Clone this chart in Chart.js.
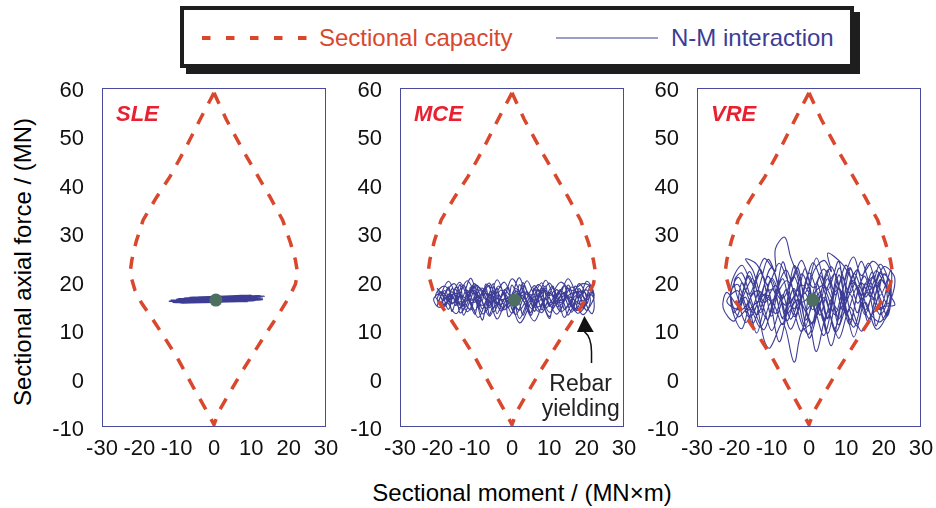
<!DOCTYPE html>
<html>
<head>
<meta charset="utf-8">
<script src="https://cdn.jsdelivr.net/npm/chart.js@4"></script>
<style>
  html, body { margin: 0; padding: 0; background: #fff; overflow: hidden; }
  #wrap { position: relative; width: 936px; height: 508px; font-family: 'Liberation Sans', Arial, sans-serif; }
  canvas { position: absolute; top: 70px; }
  #legend {
    position: absolute; left: 180px; top: 6px; width: 674px; height: 62px; box-sizing: border-box;
    border: 4px solid #1e1e1e; box-shadow: 6px 6px 0 #1e1e1e; background: #fff;
  }
  .txt { position: absolute; white-space: nowrap; font-size: 24px; line-height: 1; }
</style>
</head>
<body>
<div id="wrap">
  <div id="legend">
    <svg style="position:absolute;left:18px;top:24px" width="110" height="8">
      <line x1="0" y1="4" x2="108" y2="4" stroke="#d9472d" stroke-width="4" stroke-dasharray="8.5,15.5"/>
    </svg>
    <span class="txt" style="left:135px;top:16px;color:#d9472d">Sectional capacity</span>
    <svg style="position:absolute;left:372px;top:26px" width="104" height="4">
      <line x1="0" y1="2" x2="102" y2="2" stroke="#3d3d96" stroke-width="1.2"/>
    </svg>
    <span class="txt" style="left:487px;top:16px;color:#3d3d96">N-M interaction</span>
  </div>
  <canvas id="c1" width="298" height="397" style="left:42px"></canvas>
  <canvas id="c2" width="298" height="397" style="left:340px"></canvas>
  <canvas id="c3" width="298" height="397" style="left:637px"></canvas>
  <span class="txt" style="left:23px;top:262px;transform:translate(-50%,-50%) rotate(-90deg)">Sectional axial force / (MN)</span>
  <span class="txt" style="left:522px;top:493px;transform:translate(-50%,-50%)">Sectional moment / (MN×m)</span>
</div>
<script>
// tick labels
const xTicks = [-30, -20, -10, 0, 10, 20, 30];
const yTicks = [-10, 0, 10, 20, 30, 40, 50, 60];

// sectional capacity envelope (M, N), same for all three cases
const capM = [0, 3.3, 7.5, 11.3, 15, 18.4, 20.5, 21.8, 22.4, 21.8, 20.2, 17, 14, 10.8, 7.7, 4.5, 1.5, 0,
              -1.6, -5.6, -10, -13.2, -16.3, -19.4, -21.2, -22.5, -22, -20.8, -19, -15.5, -11.8, -7.8, -3.8, 0];
const capN = [59, 53.5, 47.5, 42.4, 37.5, 32.7, 28, 24.5, 21.8, 19.5, 16.9, 12.9, 9.4, 5.5, 1.7, -2.5, -6.5, -9.5,
              -7.2, -1.7, 4.5, 8.4, 12.1, 15.6, 18.3, 21.8, 24.5, 28.4, 32.7, 37.3, 41.7, 47.3, 53.4, 59];

// N-M interaction traces
const sleM = [-12, 13.5, -10, 12, -11, 10, -8, 13, -9, 11, -6, 12.5, -10.5, 9, -7, 11.5, -11.5, 8, -5, 13,
              -9.5, 10.5, -8.5, 12, -10, 7, -6.5, 11, -11, 9.5, -7.5, 12.5, -12, 10];
const sleN = [15.9, 17.0, 16.4, 16.4, 15.7, 17.2, 16.6, 16.6, 15.6, 16.1, 16.7, 17.1, 16.0, 15.9, 15.8, 16.9, 16.2, 16.8, 15.9, 16.3,
              16.5, 16.6, 15.7, 17.0, 16.1, 16.2, 16.8, 16.5, 15.9, 17.1, 16.3, 16.7, 16.0, 16.0];

const mceM = [0, 3, 6, 9, 11, 14, 16, 18, 20, 21.5, 19, 16, 13, 10, 7, 4, 1, -2, -5, -8,
              -11, -14, -16, -19, -20.5, -18, -15, -12, -9, -6, -3, 0, 2, 5, 8, 11, 13, 15, 17, 19,
              21, 22, 20, 18, 15, 12, 9, 6, 3, 0, -3, -6, -9, -12, -15, -17, -19, -21, -19.5, -16,
              -13, -10, -7, -4, -1, 2, 5, 7, 10, 12, 14, 17, 19, 21, 22, 21.5, 20.5, 18, 16, 13,
              10, 8, 5, 2, -1, -4, -7, -10, -13, -16, -18, -20, -17, -14, -11, -8, -5, -2, 1, 4,
              7, 10, 13, 16, 19, 21, 18.5, 15, 12, 9, 6, 3, 0, -3, -6, -9, -12, -15, -18, -20,
              -17, -14, -11, -8, -5, -2, 1, 4, 7, 10, 13, 16, 18, 20, 17.5, 14.5, 11.5, 8.5, 5.5, 2.5,
              -0.5, -3.5, -6.5, -9.5, -12.5, -15.5, -18.5, -15, -11, -7, -3, 1,
              -2, -4, -6, -7, -9, -10, -12, -13, -15, -16, -18, -19, -20, -18, -17, -15, -14, -12, -11, -9,
              -8, -6, -5, -3, -1, 0, 2, 3, 5, 6, 8, 9, 11, 12, 14, 15, 17, 18, 20, 21,
              20, 19, 17, 16, 14, 13, 11, 10, 8, 7, 5, 4, 2, 1, -1, -2, -4, -5, -7, -8,
              -10, -11, -13, -14, -16, -17, -19, -20, -18, -16, -15, -13, -12, -10, -9, -7, -6, -4, -3, -1,
              0, 2, 3, 5, 6, 8, 9, 11, 12, 14, 15, 17, 18, 20, 21, 22, 20.5, 19, 17, 15,
              14, 12, 10, 9, 7, 6, 4, 3, 1, -1, -2, -4, -5, -7, -8, -10, -11, -13, -14, -16,
              -17, -19, -18, -16, -14, -12, -10, -8, -6, -4, -2, 0, 2, 4, 6, 8, 10, 12, 14, 16,
              18, 20, 19, 16, 13, 10, 7, 4, 1];
const mceN = [16.5, 17.8, 16.2, 18.1, 15.4, 17.6, 14.8, 17.9, 16.3, 18.7, 19.6, 18.2, 19.9, 17.1, 19.4, 15.3, 18.6, 14.2, 17.8, 15.1,
              18.4, 14.6, 17.9, 15.8, 17.2, 19.1, 16.3, 20.2, 16.8, 19.7, 13.9, 17.3, 12.4, 16.9, 13.6, 18.8, 14.1, 19.3, 15.6, 13.2,
              15.1, 17.4, 20.1, 16.7, 20.6, 16.1, 20.3, 14.8, 19.1, 13.5, 18.3, 12.9, 17.2, 13.8, 18.9, 14.3, 17.6, 16.4, 14.7, 16.6,
              15.2, 19.6, 14.4, 20.4, 15.7, 20.8, 13.1, 17.5, 12.8, 17.3, 12.6, 17.1, 14.6, 19.2, 15.6, 13.4, 14.2, 18.6, 13.7, 18.4,
              14.9, 19.8, 15.6, 11.5, 16.9, 12.3, 18.1, 14.1, 19.3, 15.4, 18.2, 15.1, 20.1, 15.8, 20.7, 13.4, 16.4, 19.9, 14.9, 20.2,
              15.8, 19.7, 15.7, 18.9, 16.1, 17.9, 15.4, 16.9, 13.3, 16.4, 11.9, 16.1, 20.6, 15.1, 17.3, 12.6, 16.9, 13.4, 16.8, 18.6,
              16.2, 19.9, 15.6, 18.7, 14.7, 17.6, 13.2, 17.9, 13.9, 17.8, 13.8, 16.4, 19.6, 15.9, 13.5, 17.4, 15.1, 18.5, 14.4, 17.2,
              15.4, 19.1, 15.9, 19.3, 15.9, 19.6, 16.3, 17.6, 16.2, 17.6, 16.3, 17.1,
              15.2, 17.9, 14.6, 18.8, 16.2, 13.3, 17.4, 19.2, 15.1, 17.3, 14.9, 16.8, 18.1, 17.4, 15.9, 18.4, 13.6, 15.5, 18.9, 14.7,
              17.1, 19.2, 13.8, 16.6, 18.9, 14.3, 17.7, 19.8, 16.2, 18.7, 14.2, 16.7, 19.1, 14.9, 16.1, 18.7, 14.4, 16.9, 18.3, 16.1,
              14.1, 15.3, 19.1, 16.4, 14.3, 18.1, 15.3, 12.4, 16.1, 18.4, 13.6, 15.8, 19.4, 15.2, 12.8, 17.9, 15.1, 19.6, 14.9, 12.1,
              16.9, 14.2, 16.2, 19.4, 13.9, 16.4, 17.9, 16.1, 15.2, 18.6, 16.7, 14.4, 18.2, 15.7, 18.9, 16.7, 13.2, 18.6, 14.4, 16.1,
              19.3, 15.6, 13.1, 17.4, 15.1, 18.9, 14.6, 16.6, 18.4, 15.4, 13.1, 16.1, 18.6, 15.5, 17.4, 16.6, 19.1, 17.4, 13.9, 16.4,
              19.2, 16.8, 15.1, 19.1, 16.2, 13.9, 18.1, 16.2, 18.1, 14.6, 16.6, 13.4, 16.9, 19.5, 16.1, 18.2, 16.6, 13.1, 17.1, 15.6,
              18.9, 15.1, 16.6, 16.9, 14.6, 16.3, 19.1, 14.4, 17.1, 15.4, 18.4, 16.2, 14.1, 16.6, 19.2, 16.7, 13.7, 15.6, 17.8, 15.1,
              14.1, 16.9, 18.1, 17.6, 16.1, 17.6, 14.8, 17.4, 16.4];

const vreM = [0, 4, 8, 12, 15, 18, 21, 23, 20, 17, 14, 11, 8, 5, 2, -1, -4, -7, -10, -13,
              -16, -19, -22, -23, -20, -17, -14, -11, -8, -5, -2, 1, 4, 6, 5, 9, 13, 16, 19, 22,
              21, 18, 15, 12, 9, 6, 3, 0, -3, -5, -6.5, -9, -9, -12, -15, -18, -21, -19, -16, -13,
              -10, -7, -4, -1, 2, 5, 8, 10, 13, 16, 19, 22, 20, 17, 14, 11, 8, 5, 2, -1,
              -4, -7, -10, -13, -16, -19, -21, -18, -15, -12, -10.5, -7, -4, -2, 1, 4, 7, 10, 12, 14,
              17, 19, 21, 23, 20, 17, 14, 11, 8, 5, 2, 0, -3, -6, -9, -12, -15, -17, -14, -11,
              -8, -5, -2, 1, 4, 7, 10, 13, 16, 19, 22, 20, 17, 14, 11, 8, 5, 2, -1, -4,
              -7, -10, -13, -16, -19, -22, -18, -14, -10, -6, -2, 1,
              3, 5, 7, 9, 11, 13, 15, 17, 18, 20, 21, 19, 17, 15, 13, 11, 9, 7, 5, 3,
              1, -1, -3, -5, -7, -9, -11, -13, -15, -17, -19, -20, -18, -16, -14, -12, -10, -8, -6, -4,
              -2, 0, 2, 4, 6, 8, 10, 12, 14, 16, 18, 20, 22, 21, 19, 16, 14, 12, 10, 8,
              6, 4, 2, 0, -2, -4, -6, -8, -10, -12, -14, -16, -18, -20, -21, -19, -17, -15, -13, -11,
              -9, -7, -5, -3, -1, 1, 3, 5, 7, 9, 11, 13, 15, 17, 19, 21, 22, 20, 18, 16,
              14, 12, 10, 8, 6, 4, 2, 0, -2, -4, -6, -8, -10, -12, -14, -16, -18, -19, -17, -15,
              -13, -11, -9, -7, -5, -3, -1, 1, 3, 5, 7, 9, 11, 13, 15, 17, 19, 21, 19, 17,
              15, 13, 11, 9, 7, 5, 3, 1, -1, -3, -5, -7, -9, -11, -13, -15, -17, -14, -10, -6,
              -2, 1];
const vreN = [16.5, 19.2, 14.1, 20.3, 13.2, 19.8, 15.4, 20.6, 23.1, 18.4, 24.2, 17.6, 22.8, 12.4, 19.7, 10.8, 18.6, 12.3, 20.4, 13.6,
              21.2, 15.3, 17.8, 14.6, 11.9, 16.8, 9.4, 17.2, 7.6, 15.1, 9.8, 21.6, 24.4, 22.1, 25.9, 23.6, 19.1, 23.8, 17.2, 22.4,
              13.6, 10.2, 15.8, 8.6, 16.4, 6.8, 14.2, 8.4, 20.8, 25.3, 29.2, 26.8, 22.1, 24.8, 19.6, 23.4, 18.6, 12.8, 14.6, 10.6,
              15.9, 11.2, 23.3, 17.8, 24.9, 18.3, 24.2, 13.4, 18.9, 11.6, 20.4, 16.8, 12.2, 21.9, 16.3, 22.6, 11.1, 20.6, 13.1, 22.7,
              14.4, 24.1, 12.9, 22.6, 17.4, 20.9, 16.1, 10.3, 17.7, 7.9, 6.3, 11.4, 3.4, 9.6, 11.7, 16.7, 10.4, 21.8, 25.1, 21.3,
              24.2, 22.8, 18.1, 15.2, 14.9, 13.4, 9.8, 14.7, 8.3, 13.8, 5.6, 11.9, 16.3, 13.4, 19.2, 15.7, 22.3, 24.7, 23.6, 19.4,
              23.8, 19.7, 24.4, 18.8, 22.6, 17.9, 23.4, 15.6, 20.6, 14.2, 19.3, 21.4, 16.4, 19.7, 12.1, 18.6, 9.3, 16.8, 14.1, 21.1,
              16.6, 22.9, 17.1, 12.6, 18.1, 15.9, 14.2, 18.2, 16.1, 20.2, 15.8, 17.2,
              13.1, 18.9, 21.6, 15.4, 11.2, 17.9, 21.1, 14.6, 10.9, 16.2, 20.7, 23.6, 19.3, 16.9, 22.4, 19.6, 12.7, 9.6, 15.6, 20.7,
              23.9, 19.1, 13.7, 10.2, 15.3, 21.4, 24.6, 19.8, 14.7, 11.6, 16.4, 20.2, 21.8, 17.6, 12.8, 10.1, 14.9, 19.9, 22.4, 17.3,
              11.4, 9.2, 14.6, 19.8, 23.1, 18.7, 14.2, 10.6, 15.3, 18.8, 22.3, 19.8, 17.3, 14.1, 11.7, 13.9, 18.4, 21.7, 17.2, 12.3,
              16.4, 11.6, 18.2, 21.8, 16.9, 12.8, 18.4, 14.1, 9.9, 14.3, 18.3, 22.1, 17.3, 13.6, 17.9, 19.4, 15.2, 11.4, 16.1, 21.1,
              17.3, 12.6, 19.2, 22.9, 14.9, 11.3, 16.9, 22.4, 17.3, 20.9, 13.9, 10.9, 17.7, 20.9, 16.7, 12.9, 18.6, 21.6, 15.6, 12.4,
              16.8, 19.9, 16.1, 21.4, 14.4, 8.9, 13.3, 18.6, 21.6, 16.1, 11.9, 17.6, 20.7, 16.6, 13.1, 16.3, 19.8, 14.3, 18.1, 20.6,
              14.9, 12.2, 16.9, 20.6, 15.7, 18.2, 12.1, 15.6, 21.2, 17.1, 13.2, 18.4, 22.9, 18.2, 14.1, 17.6, 21.9, 16.4, 13.2, 16.9,
              19.6, 13.6, 17.4, 14.1, 19.4, 12.6, 17.9, 14.2, 17.6, 15.3, 12.3, 17.3, 13.4, 18.7, 21.8, 17.9, 13.8, 15.7, 18.4, 15.1,
              19.3, 16.6];

// mean state (green dot) per case
const dotM = [0.5, 0.7, 1.0];
const dotN = [16.2, 16.2, 16.2];

const caseNames = ['SLE', 'MCE', 'VRE'];

const FONT = "'Liberation Sans', Arial, sans-serif";
const RED = '#d9472d';
const BLUE = '#3d3d96';

function pts(ms, ns) {
    return ms.map((m, i) => ({x: m, y: ns[i]}));
}

/** frame, case label and (for MCE) the rebar yielding note */
function decoPlugin(idx) {
    return {
        id: 'deco' + idx,
        afterDatasetsDraw(chart) {
            const a = chart.chartArea;
            const ctx = chart.ctx;
            const sx = chart.scales.x, sy = chart.scales.y;
            ctx.save();
            ctx.strokeStyle = '#4a4a9c';
            ctx.lineWidth = 1;
            ctx.strokeRect(a.left + 0.5, a.top + 0.5, a.right - a.left - 1, a.bottom - a.top - 1);
            ctx.fillStyle = '#e8202f';
            ctx.font = 'italic bold 22px ' + FONT;
            ctx.textBaseline = 'middle';
            ctx.textAlign = 'left';
            ctx.fillText(caseNames[idx], a.left + 14, a.top + 27);
            if (idx === 1) {
                ctx.strokeStyle = '#111';
                ctx.fillStyle = '#111';
                ctx.lineWidth = 1.5;
                ctx.beginPath();
                ctx.moveTo(sx.getPixelForValue(19.4), sy.getPixelForValue(9.7));
                ctx.quadraticCurveTo(sx.getPixelForValue(21.3), sy.getPixelForValue(8.5),
                                     sx.getPixelForValue(21.3), sy.getPixelForValue(5.5));
                ctx.lineTo(sx.getPixelForValue(21.3), sy.getPixelForValue(3.2));
                ctx.stroke();
                ctx.beginPath();
                ctx.moveTo(sx.getPixelForValue(19.4), sy.getPixelForValue(12.9));
                ctx.lineTo(sx.getPixelForValue(17.4), sy.getPixelForValue(9.6));
                ctx.lineTo(sx.getPixelForValue(21.9), sy.getPixelForValue(9.6));
                ctx.closePath();
                ctx.fill();
                ctx.font = '23px ' + FONT;
                ctx.textAlign = 'center';
                ctx.fillStyle = '#222';
                ctx.fillText('Rebar', sx.getPixelForValue(18.4), sy.getPixelForValue(-1.3));
                ctx.fillText('yielding', sx.getPixelForValue(18.4), sy.getPixelForValue(-6.5));
            }
            ctx.restore();
        }
    };
}

function noPad(s) {
    s.paddingTop = 0;
    s.paddingBottom = 0;
    s.paddingLeft = 0;
    s.paddingRight = 0;
}

function drawPanel(canvasId, idx, ms, ns) {
    const ctx = document.getElementById(canvasId).getContext('2d');
    return new Chart(ctx, {
        type: 'scatter',
        data: {
            datasets: [
                {
                    data: [{x: dotM[idx], y: dotN[idx]}],
                    pointRadius: 6.5,
                    backgroundColor: '#4d6f5f',
                    borderWidth: 0,
                    showLine: false
                },
                {
                    data: pts(capM, capN),
                    showLine: true,
                    borderColor: RED,
                    borderWidth: 3.5,
                    borderDash: [12, 11],
                    pointRadius: 0,
                    tension: 0
                },
                {
                    data: pts(ms, ns),
                    showLine: true,
                    borderColor: BLUE,
                    borderWidth: 1.1,
                    pointRadius: 0,
                    tension: 0.35
                }
            ]
        },
        options: {
            responsive: false,
            animation: false,
            devicePixelRatio: 1,
            layout: {padding: {top: 18, right: 14, left: 0, bottom: 0}},
            plugins: {legend: {display: false}, tooltip: {enabled: false}},
            scales: {
                x: {
                    type: 'linear',
                    min: xTicks[0], max: xTicks[xTicks.length - 1],
                    afterFit: s => { s.height = 40; noPad(s); },
                    afterBuildTicks: s => { s.ticks = xTicks.map(v => ({value: v})); },
                    grid: {display: false},
                    border: {display: false},
                    ticks: {color: '#111', font: {family: FONT, size: 22}, padding: 1, autoSkip: false, maxRotation: 0}
                },
                y: {
                    type: 'linear',
                    min: yTicks[0], max: yTicks[yTicks.length - 1],
                    afterFit: s => { s.width = 60; noPad(s); },
                    afterBuildTicks: s => { s.ticks = yTicks.map(v => ({value: v})); },
                    grid: {display: false},
                    border: {display: false},
                    ticks: {color: '#111', font: {family: FONT, size: 22}, padding: 10, labelOffset: 3, autoSkip: false}
                }
            }
        },
        plugins: [decoPlugin(idx)]
    });
}

drawPanel('c1', 0, sleM, sleN);
drawPanel('c2', 1, mceM, mceN);
drawPanel('c3', 2, vreM, vreN);
</script>
</body>
</html>
